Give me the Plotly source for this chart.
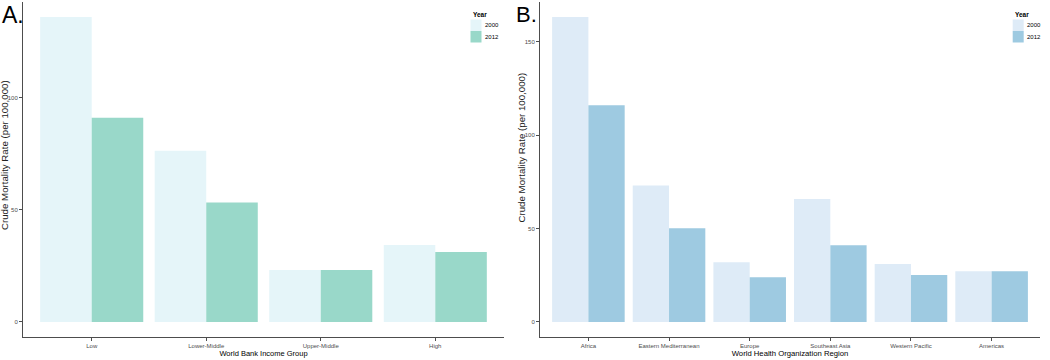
import plotly.graph_objects as go

# Panel A data
income_groups = ["Low", "Lower-Middle", "Upper-Middle", "High"]
income_2000 = [136.0, 76.4, 23.2, 34.3]
income_2012 = [91.1, 53.3, 23.2, 31.2]

# Panel B data
regions = ["Africa", "Eastern Mediterranean", "Europe", "Southeast Asia", "Western Pacific", "Americas"]
region_2000 = [163.2, 73.1, 32.0, 65.8, 31.1, 27.2]
region_2012 = [116.0, 50.2, 24.0, 41.1, 25.1, 27.2]

years = ["2000", "2012"]
colors_a = ["#e5f5f9", "#99d8c9"]
colors_b = ["#deebf7", "#9ecae1"]
y_title = "Crude Mortality Rate (per 100,000)"

FONT = "Liberation Sans, Arial, sans-serif"
AXC = "#4d4d4d"

fig = go.Figure()
for vals, col, yr in zip([income_2000, income_2012], colors_a, years):
    fig.add_trace(go.Bar(x=income_groups, y=vals, name=yr, marker=dict(color=col, line=dict(width=0)),
                         xaxis="x", yaxis="y", offsetgroup=yr, showlegend=False))
for vals, col, yr in zip([region_2000, region_2012], colors_b, years):
    fig.add_trace(go.Bar(x=regions, y=vals, name=yr, marker=dict(color=col, line=dict(width=0)),
                         xaxis="x2", yaxis="y2", offsetgroup=yr, showlegend=False))

ydom = [0.0633, 0.995]
common_axis = dict(showline=True, linecolor=AXC, linewidth=1, ticks="outside", ticklen=3,
                   tickcolor=AXC, tickfont=dict(size=6, color=AXC, family=FONT),
                   showgrid=False, zeroline=False, automargin=False)

fig.update_layout(
    width=1050, height=360,
    margin=dict(l=0, r=0, t=0, b=0, autoexpand=False),
    paper_bgcolor="white", plot_bgcolor="white",
    barmode="group", bargap=0.1, bargroupgap=0,
    font=dict(family=FONT),
    xaxis=dict(domain=[23/1050, 504/1050], anchor="y", range=[-0.6, 3.6],
               title=dict(text="World Bank Income Group", font=dict(size=7.5, color="black"), standoff=0),
               **common_axis),
    yaxis=dict(domain=ydom, anchor="x", range=[-6.8, 142.8], tickvals=[0, 50, 100], **common_axis),
    xaxis2=dict(domain=[540/1050, 1040/1050], anchor="y2", range=[-0.6, 5.6],
                title=dict(text="World Health Organization Region", font=dict(size=7.7, color="black"), standoff=0),
                **common_axis),
    yaxis2=dict(domain=ydom, anchor="x2", range=[-8.16, 171.4], tickvals=[0, 50, 100, 150], **common_axis),
    showlegend=False,
)

# Y axis titles as rotated annotations
for xc, yc in [(4, 155), (520.5, 148)]:
    fig.add_annotation(text=y_title, x=xc / 1050, y=1 - yc / 360, xref="paper", yref="paper",
                       xanchor="center", yanchor="middle", textangle=-90, showarrow=False,
                       font=dict(size=9.7, color="#222222", family=FONT))

# Panel labels
fig.add_annotation(text="A.", x=0, y=1.0, xref="paper", yref="paper", xanchor="left", yanchor="top",
                   showarrow=False, font=dict(size=23, color="black", family=FONT))
fig.add_annotation(text="B.", x=514/1050, y=1.0, xref="paper", yref="paper", xanchor="left", yanchor="top",
                   showarrow=False, font=dict(size=22, color="black", family=FONT))

# Manual legends (ggplot style)
def add_legend(x0, y_t, colors):
    fig.add_annotation(text="<b>Year</b>", x=x0 / 1050, y=1 - y_t / 360, xref="paper", yref="paper",
                       xanchor="left", yanchor="middle", showarrow=False,
                       font=dict(size=6.5, color="black", family=FONT))
    for i, (col, yr) in enumerate(zip(colors, years)):
        top = y_t + 5 + i * 11.5
        fig.add_shape(type="rect", xref="paper", yref="paper",
                      x0=x0 / 1050, x1=(x0 + 11) / 1050,
                      y0=1 - top / 360, y1=1 - (top + 11.5) / 360,
                      fillcolor=col, line=dict(width=0))
        fig.add_annotation(text=yr, x=(x0 + 12.5) / 1050, y=1 - (top + 5.75) / 360, xref="paper", yref="paper",
                           xanchor="left", yanchor="middle", showarrow=False,
                           font=dict(size=6, color="black", family=FONT))

add_legend(470.5, 14.5, colors_a)
add_legend(1012.7, 14.5, colors_b)

fig.write_html("out.html", config={"displayModeBar": False},
               post_script="document.body.style.margin='0';document.body.style.overflow='hidden';")
